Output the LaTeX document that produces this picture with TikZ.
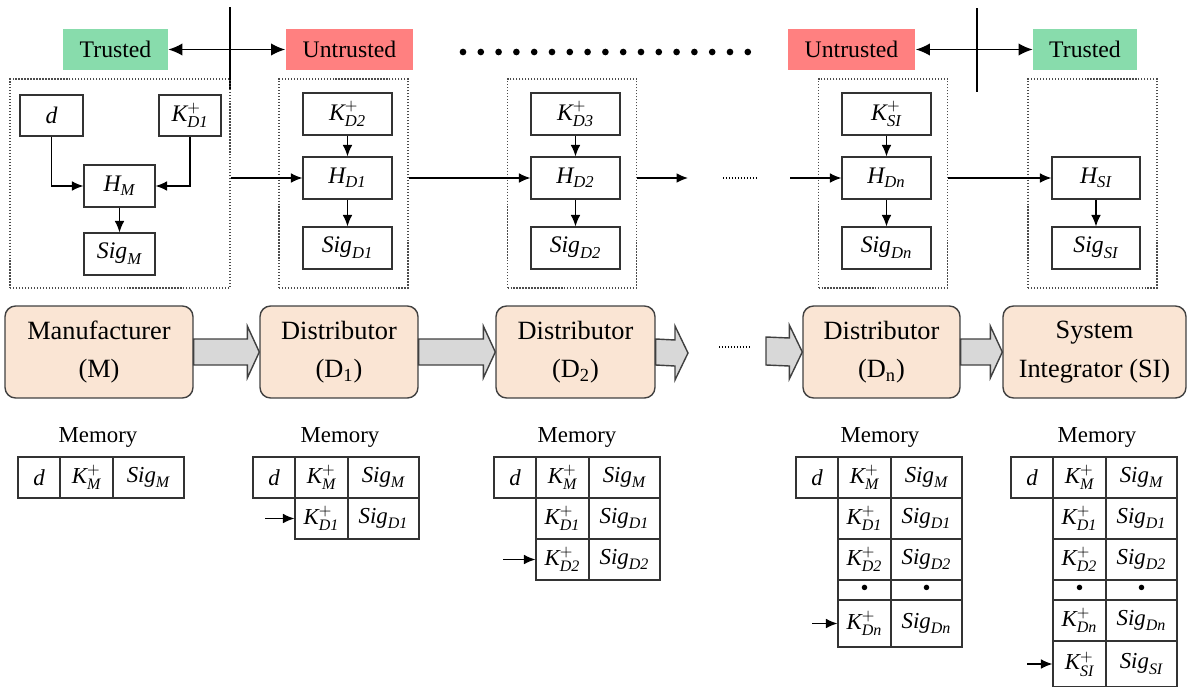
\documentclass[tikz,border=0pt]{standalone}
\usepackage{fontspec}
\setmainfont{Liberation Serif}
\usepackage{tikz}
\usetikzlibrary{calc,arrows.meta}
\definecolor{trustgreen}{RGB}{136,220,172}
\definecolor{untrustred}{RGB}{255,128,128}
\definecolor{rolefill}{RGB}{250,229,212}
\definecolor{pipegray}{RGB}{216,216,216}
\newcommand{\pubkey}[1]{$\mathit{K}^{+}_{\mathit{#1}}$}
\newcommand{\sigof}[1]{$\mathit{Sig}_{\mathit{#1}}$}

\begin{document}
\begin{tikzpicture}[x=0.02cm,y=-0.02cm,>={Latex[length=6.5pt,width=5.5pt]}]
			\tikzstyle{zone}=[minimum width=2.56cm,minimum height=0.82cm,inner sep=0pt,font=\fontsize{13.5}{15}\selectfont]
			\tikzstyle{group}=[draw=black!70,densely dotted,line width=0.7pt,minimum width=2.58cm,minimum height=4.18cm,inner sep=0pt]
			\tikzstyle{op}=[draw=black!80,line width=0.7pt,minimum width=1.78cm,minimum height=0.84cm,inner sep=0pt,font=\fontsize{13.5}{15}\selectfont]
			\tikzstyle{role}=[draw=black!75,line width=0.8pt,fill=rolefill,rounded corners=6pt,minimum height=1.84cm,align=center,inner sep=0pt,font=\fontsize{15}{22}\selectfont]
			\tikzstyle{pipe}=[draw=black!75,line width=0.8pt,fill=pipegray]
			\tikzstyle{cell}=[draw=black!80,line width=0.7pt,minimum height=0.82cm,inner sep=0pt,font=\fontsize{13}{15}\selectfont]
			\tikzstyle{dcell}=[cell,minimum width=0.84cm]
			\tikzstyle{kcell}=[cell,minimum width=1.06cm]
			\tikzstyle{scell}=[cell,minimum width=1.42cm]
			\tikzstyle{memlabel}=[font=\fontsize{13}{15}\selectfont]

			\useasboundingbox (0,0) rectangle (1188,687);

			% trust boundaries
			\node[zone,fill=trustgreen,minimum width=2.1cm] (trust1) at (115.5,49.5) {Trusted};
			\node[zone,fill=untrustred] (untrust1) at (349.5,49.5) {Untrusted};
			\node[zone,fill=untrustred] (untrust2) at (851.5,49.5) {Untrusted};
			\node[zone,fill=trustgreen,minimum width=2.08cm] (trust2) at (1085,49.5) {Trusted};

			\draw[{Latex[length=8pt,width=7pt]}-{Latex[length=8pt,width=7pt]},line width=0.8pt] (trust1) -- (untrust1);
			\draw[{Latex[length=8pt,width=7pt]}-{Latex[length=8pt,width=7pt]},line width=0.8pt] (untrust2) -- (trust2);

			\coordinate (sep1a) at (230,7);
			\coordinate (sep1b) at (230,90);
			\coordinate (sep2a) at (977,8);
			\coordinate (sep2b) at (977,92);
			\draw[line width=0.8pt] (sep1a) -- (sep1b);
			\draw[line width=0.8pt] (sep2a) -- (sep2b);

			\foreach \i in {0,...,16}
				\fill (463+17.8*\i,52) circle (1.9pt);

			% signing groups
			\node[group,minimum width=4.4cm] (g1) at (120,183.5) {};
			\node[group] (g2) at (343.5,183.5) {};
			\node[group] (g3) at (572,183.5) {};
			\node[group] (g4) at (883,183.5) {};
			\node[group] (g5) at (1092.5,183.5) {};

			\node[op,minimum width=1.26cm,minimum height=0.82cm] (d) at (51.5,115.5) {$\mathit{d}$};
			\node[op,minimum width=1.24cm,minimum height=0.82cm] (kd1) at (190,115.5) {\pubkey{D1}};
			\node[op,minimum width=1.42cm] (hm) at (119.5,186) {$\mathit{H}_{\mathit{M}}$};
			\node[op,minimum width=1.42cm] (sigm) at (119.5,254) {\sigof{M}};

			\node[op] (kd2) at (347.5,114) {\pubkey{D2}};
			\node[op] (hd1) at (347.5,178) {$\mathit{H}_{\mathit{D1}}$};
			\node[op] (sigd1) at (347.5,248) {\sigof{D1}};

			\node[op] (kd3) at (575.5,114) {\pubkey{D3}};
			\node[op] (hd2) at (575.5,178) {$\mathit{H}_{\mathit{D2}}$};
			\node[op] (sigd2) at (575.5,248) {\sigof{D2}};

			\node[op] (ksi) at (886.5,114) {\pubkey{SI}};
			\node[op] (hdn) at (886.5,178) {$\mathit{H}_{\mathit{Dn}}$};
			\node[op] (sigdn) at (886.5,248) {\sigof{Dn}};

			\node[op,minimum width=1.76cm] (hsi) at (1096,178) {$\mathit{H}_{\mathit{SI}}$};
			\node[op,minimum width=1.76cm] (sigsi) at (1096,248) {\sigof{SI}};

			\draw[->,line width=0.7pt] (d.south) |- (hm.west);
			\draw[->,line width=0.7pt] (kd1.south) |- (hm.east);
			\draw[->,line width=0.7pt] (hm) -- (sigm);
			\draw[->,line width=0.7pt] (kd2) -- (hd1);
			\draw[->,line width=0.7pt] (hd1) -- (sigd1);
			\draw[->,line width=0.7pt] (kd3) -- (hd2);
			\draw[->,line width=0.7pt] (hd2) -- (sigd2);
			\draw[->,line width=0.7pt] (ksi) -- (hdn);
			\draw[->,line width=0.7pt] (hdn) -- (sigdn);
			\draw[->,line width=0.7pt] (hsi) -- (sigsi);

			\coordinate (gap1) at (688,178);
			\coordinate (gap2) at (790,178);
			\coordinate (dl1) at (723,178);
			\coordinate (dl2) at (757,178);
			\draw[->,line width=0.7pt] (hd1 -| g1.east) -- (hd1);
			\draw[->,line width=0.7pt] (hd2 -| g2.east) -- (hd2);
			\draw[->,line width=0.7pt] (hd2 -| g3.east) -- (gap1);
			\draw[densely dotted,line width=0.7pt] (dl1) -- (dl2);
			\draw[->,line width=0.7pt] (gap2) -- (hdn);
			\draw[->,line width=0.7pt] (hsi -| g4.east) -- (hsi);

			% supply chain
			\node[role,minimum width=3.76cm] (m) at (99,352) {Manufacturer\\(M)};
			\node[role,minimum width=3.16cm] (d1) at (339,352) {Distributor\\(D\textsubscript{1})};
			\node[role,minimum width=3.18cm] (d2) at (575.5,352) {Distributor\\(D\textsubscript{2})};
			\node[role,minimum width=3.14cm] (dn) at (881.5,352) {Distributor\\(D\textsubscript{n})};
			\node[role,minimum width=3.66cm] (si) at (1094.5,352) {System\\Integrator (SI)};

			\coordinate (pend) at (688,353);
			\coordinate (pstart) at (766,351);
			\coordinate (pd1) at (719,347);
			\coordinate (pd2) at (749,347);

			\draw[pipe] ($(m.east)+(0,-13)$) -- ($(d1.west)+(-12,-13)$) -- ($(d1.west)+(-12,-26)$) -- (d1.west)
				-- ($(d1.west)+(-12,26)$) -- ($(d1.west)+(-12,13)$) -- ($(m.east)+(0,13)$) -- cycle;
			\draw[pipe] ($(d1.east)+(0,-13)$) -- ($(d2.west)+(-12,-13)$) -- ($(d2.west)+(-12,-26)$) -- (d2.west)
				-- ($(d2.west)+(-12,26)$) -- ($(d2.west)+(-12,13)$) -- ($(d1.east)+(0,13)$) -- cycle;
			\draw[pipe] ($(d2.east)+(0,-13)$) -- ($(pend)+(-13,-13)$) -- ($(pend)+(-13,-27)$) -- (pend)
				-- ($(pend)+(-13,27)$) -- ($(pend)+(-13,13)$) -- ($(d2.east)+(0,13)$) -- cycle;
			\draw[pipe] ($(pstart)+(0,-14)$) -- ($(dn.west)+(-13,-14)$) -- ($(dn.west)+(-13,-27)$) -- (dn.west)
				-- ($(dn.west)+(-13,27)$) -- ($(dn.west)+(-13,14)$) -- ($(pstart)+(0,14)$) -- cycle;
			\draw[pipe] ($(dn.east)+(0,-13)$) -- ($(si.west)+(-12,-13)$) -- ($(si.west)+(-12,-26)$) -- (si.west)
				-- ($(si.west)+(-12,26)$) -- ($(si.west)+(-12,13)$) -- ($(dn.east)+(0,13)$) -- cycle;
			\draw[densely dotted,line width=0.7pt] (pd1) -- (pd2);

			% memories
			\node[memlabel] (mem1) at (98,437) {Memory};
			\node[memlabel] (mem2) at (340,437) {Memory};
			\node[memlabel] (mem3) at (577,437) {Memory};
			\node[memlabel] (mem4) at (880,437) {Memory};
			\node[memlabel] (mem5) at (1097,437) {Memory};

			\node[dcell] (t1d) at (39,477.5) {$\mathit{d}$};
			\node[kcell] (t1k) at (86.5,477.5) {\pubkey{M}};
			\node[scell] (t1s) at (148.5,477.5) {\sigof{M}};

			\node[dcell] (t2d) at (274,477.5) {$\mathit{d}$};
			\node[kcell] (t2k) at (321.5,477.5) {\pubkey{M}};
			\node[scell] (t2s) at (383.5,477.5) {\sigof{M}};
			\node[kcell] (t2k1) at (321.5,518.5) {\pubkey{D1}};
			\node[scell] (t2s1) at (383.5,518.5) {\sigof{D1}};

			\node[dcell] (t3d) at (515,477.5) {$\mathit{d}$};
			\node[kcell] (t3k) at (562.5,477.5) {\pubkey{M}};
			\node[scell] (t3s) at (624.5,477.5) {\sigof{M}};
			\node[kcell] (t3k1) at (562.5,518.5) {\pubkey{D1}};
			\node[scell] (t3s1) at (624.5,518.5) {\sigof{D1}};
			\node[kcell] (t3k2) at (562.5,559.5) {\pubkey{D2}};
			\node[scell] (t3s2) at (624.5,559.5) {\sigof{D2}};

			\node[dcell] (t4d) at (817,477.5) {$\mathit{d}$};
			\node[kcell] (t4k) at (864.5,477.5) {\pubkey{M}};
			\node[scell] (t4s) at (926.5,477.5) {\sigof{M}};
			\node[kcell] (t4k1) at (864.5,518.5) {\pubkey{D1}};
			\node[scell] (t4s1) at (926.5,518.5) {\sigof{D1}};
			\node[kcell] (t4k2) at (864.5,559.5) {\pubkey{D2}};
			\node[scell] (t4s2) at (926.5,559.5) {\sigof{D2}};
			\node[kcell,minimum height=0.4cm] (t4kdot) at (864.5,590) {\textbullet};
			\node[scell,minimum height=0.4cm] (t4sdot) at (926.5,590) {\textbullet};
			\node[kcell,minimum height=0.94cm] (t4kn) at (864.5,623.5) {\pubkey{Dn}};
			\node[scell,minimum height=0.94cm] (t4sn) at (926.5,623.5) {\sigof{Dn}};

			\node[dcell] (t5d) at (1032,477.5) {$\mathit{d}$};
			\node[kcell] (t5k) at (1079.5,477.5) {\pubkey{M}};
			\node[scell] (t5s) at (1141.5,477.5) {\sigof{M}};
			\node[kcell] (t5k1) at (1079.5,518.5) {\pubkey{D1}};
			\node[scell] (t5s1) at (1141.5,518.5) {\sigof{D1}};
			\node[kcell] (t5k2) at (1079.5,559.5) {\pubkey{D2}};
			\node[scell] (t5s2) at (1141.5,559.5) {\sigof{D2}};
			\node[kcell,minimum height=0.4cm] (t5kdot) at (1079.5,590) {\textbullet};
			\node[scell,minimum height=0.4cm] (t5sdot) at (1141.5,590) {\textbullet};
			\node[kcell] (t5kn) at (1079.5,620.5) {\pubkey{Dn}};
			\node[scell] (t5sn) at (1141.5,620.5) {\sigof{Dn}};
			\node[kcell,minimum height=0.92cm] (t5ksi) at (1079.5,664) {\pubkey{SI}};
			\node[scell,minimum height=0.92cm] (t5ssi) at (1141.5,664) {\sigof{SI}};

			\coordinate (new2) at (265,518.5);
			\coordinate (new3) at (503,559.5);
			\coordinate (new4) at (812,623.5);
			\coordinate (new5) at (1027,664);
			\draw[->,line width=0.7pt] (new2) -- (t2k1);
			\draw[->,line width=0.7pt] (new3) -- (t3k2);
			\draw[->,line width=0.7pt] (new4) -- (t4kn);
			\draw[->,line width=0.7pt] (new5) -- (t5ksi);

		\end{tikzpicture}
\end{document}
